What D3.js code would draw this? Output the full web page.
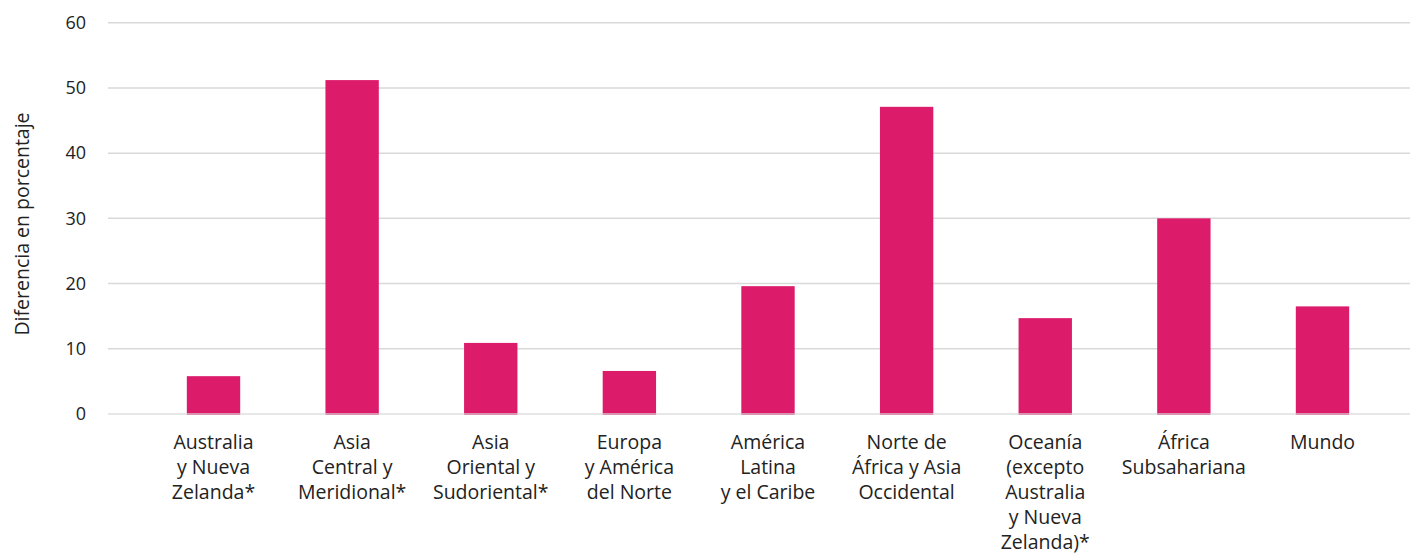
<!DOCTYPE html>
<html>
<head>
<meta charset="utf-8">
<script src="https://cdn.jsdelivr.net/npm/d3@7"></script>
<style>
  html, body { margin: 0; padding: 0; background: #fff; }
  svg { display: block; }
  text { font-family: "Open Sans", Lato, sans-serif; fill: #222; }
</style>
</head>
<body>
<svg id="chart" width="1410" height="554"></svg>
<script>
// Regions (each label split into its display lines)
const regions = [
  ["Australia", "y Nueva", "Zelanda*"],
  ["Asia", "Central y", "Meridional*"],
  ["Asia", "Oriental y", "Sudoriental*"],
  ["Europa", "y América", "del Norte"],
  ["América", "Latina", "y el Caribe"],
  ["Norte de", "África y Asia", "Occidental"],
  ["Oceanía", "(excepto", "Australia", "y Nueva", "Zelanda)*"],
  ["África", "Subsahariana"],
  ["Mundo"]
];
// Difference in percentage per region
const values = [5.8, 51.2, 10.9, 6.6, 19.6, 47.1, 14.7, 30.0, 16.5];
const yTicks = [0, 10, 20, 30, 40, 50, 60];
const yTitle = "Diferencia en porcentaje";

const svg = d3.select("#chart");
const plot = { left: 108, right: 1410, top: 22.7, bottom: 414 };

const keys = regions.map((d, i) => i);
const x = d3.scaleBand()
  .domain(keys)
  .range([144.2, 1391.8])
  .paddingInner(0.615)
  .paddingOuter(0.3075);

const y = d3.scaleLinear().domain([0, 60]).range([plot.bottom, plot.top]);

// Gridlines
svg.append("g")
  .selectAll("line")
  .data(yTicks.filter(t => t !== 0))
  .join("line")
  .attr("x1", plot.left).attr("x2", plot.right)
  .attr("y1", d => y(d)).attr("y2", d => y(d))
  .attr("stroke", "#d9d9d9").attr("stroke-width", 1.5);

// Bars
svg.append("g")
  .selectAll("rect")
  .data(values)
  .join("rect")
  .attr("x", (d, i) => x(i))
  .attr("width", x.bandwidth())
  .attr("y", d => y(d))
  .attr("height", d => y(0) - y(d) + 1)
  .attr("fill", "#dc1b6b");

// Zero baseline drawn over the bars
svg.append("line")
  .attr("x1", plot.left).attr("x2", plot.right)
  .attr("y1", y(0)).attr("y2", y(0))
  .attr("stroke", "#d9d9d9").attr("stroke-width", 1.5)
  .attr("stroke-opacity", 0.85);

// Y axis tick labels
const yAxis = d3.axisLeft(y).tickValues(yTicks).tickSize(0).tickPadding(0);
const yg = svg.append("g").attr("transform", "translate(86,0)").call(yAxis);
yg.select(".domain").remove();
yg.selectAll("text")
  .attr("font-size", 18)
  .attr("fill", "#333")
  .style("font-family", "'Open Sans', Lato, sans-serif");

// Y axis title
svg.append("text")
  .attr("transform", `translate(29,224) rotate(-90)`)
  .attr("text-anchor", "middle")
  .attr("font-size", 19.5)
  .text(yTitle);

// Category labels
const xl = svg.append("g");
regions.forEach((lines, i) => {
  const cx = x(i) + x.bandwidth() / 2;
  const t = xl.append("text")
    .attr("text-anchor", "middle")
    .attr("font-size", 19.5);
  lines.forEach((ln, j) => {
    t.append("tspan")
      .attr("x", cx)
      .attr("y", 449 + j * 25)
      .text(ln);
  });
});
</script>
</body>
</html>
